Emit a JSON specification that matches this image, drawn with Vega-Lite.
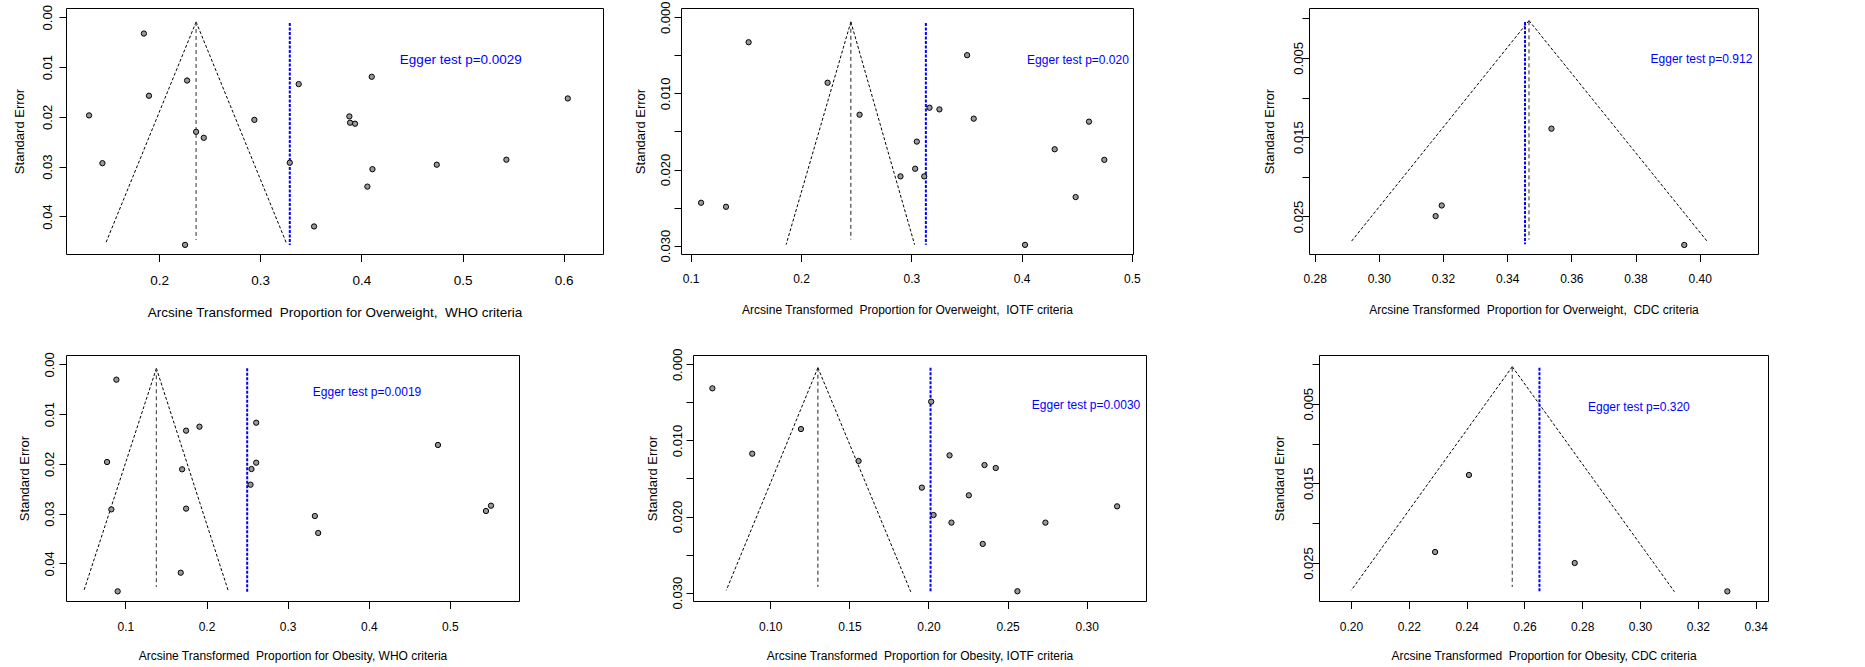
{
  "$schema": "https://vega.github.io/schema/vega-lite/v6.json",
  "background": "white",
  "padding": {"left": 12, "top": 0, "right": 0, "bottom": 0},
  "config": {
    "view": {"stroke": "black", "strokeWidth": 1},
    "axis": {"titleFontWeight": "normal", "labelColor": "#000", "titleColor": "#000", "tickColor": "#000", "tickWidth": 1, "domain": false, "grid": false, "labelFlush": false, "labelOverlap": false, "labelBound": false},
    "axisX": {"labelFont": "Liberation Sans", "titleFont": "Liberation Sans", "labelFontSize": 12, "titleFontSize": 12, "tickSize": 7.5, "labelPadding": 12.3, "titlePadding": 20},
    "axisY": {"labelFont": "Liberation Sans", "titleFont": "Liberation Sans", "labelFontSize": 13, "titleFontSize": 13, "tickSize": 7, "labelAngle": 270, "labelAlign": "center", "labelBaseline": "middle"}
  },
  "spacing": 28,
  "vconcat": [
    {
      "spacing": 30,
      "hconcat": [
        {
          "width": 537, "height": 246,
          "encoding": {
            "x": {"field": "x", "type": "quantitative", "scale": {"domain": [0.108, 0.6388], "nice": false, "zero": false}, "axis": {"values": [0.2, 0.3, 0.4, 0.5, 0.6], "format": ".1f", "labelFontSize": 13.5, "titleFontSize": 13.5, "labelPadding": 12, "titlePadding": 18, "title": "Arcsine Transformed\u00a0 Proportion for Overweight,\u00a0 WHO criteria"}},
            "y": {"field": "y", "type": "quantitative", "scale": {"domain": [-0.00186, 0.04753], "nice": false, "zero": false, "reverse": true}, "axis": {"values": [0, 0.01, 0.02, 0.03, 0.04], "format": ".2f", "labelPadding": 11.6, "titlePadding": 15, "title": "Standard Error"}}
          },
          "layer": [
            {"data": {"values": [{"x": 0.2366, "y": 0.00093, "x2": 0.147, "y2": 0.0455}, {"x": 0.2366, "y": 0.00093, "x2": 0.3262, "y2": 0.0455}]}, "mark": {"type": "rule", "color": "black", "strokeWidth": 1, "strokeDash": [3, 2]}, "encoding": {"x2": {"field": "x2"}, "y2": {"field": "y2"}}},
            {"data": {"values": [{"x": 0.2366, "y": 0.00093, "y2": 0.0447}]}, "mark": {"type": "rule", "color": "#555", "strokeWidth": 1.2, "strokeDash": [4, 3]}, "encoding": {"y2": {"field": "y2"}}},
            {"data": {"values": [{"x": 0.3292, "y": 0.00114, "y2": 0.0457}]}, "mark": {"type": "rule", "color": "#0000ff", "strokeWidth": 2, "strokeDash": [3, 1.5]}, "encoding": {"y2": {"field": "y2"}}},
            {"data": {"values": [
              {"x": 0.185, "y": 0.00327}, {"x": 0.2277, "y": 0.0127}, {"x": 0.190, "y": 0.01576}, {"x": 0.1308, "y": 0.0197}, {"x": 0.2366, "y": 0.0230}, {"x": 0.2442, "y": 0.0242}, {"x": 0.2942, "y": 0.0206}, {"x": 0.144, "y": 0.0293}, {"x": 0.2257, "y": 0.0457}, {"x": 0.3292, "y": 0.0292}, {"x": 0.338, "y": 0.01342}, {"x": 0.3532, "y": 0.042}, {"x": 0.4102, "y": 0.01195}, {"x": 0.3881, "y": 0.0199}, {"x": 0.3888, "y": 0.02117}, {"x": 0.3937, "y": 0.02137}, {"x": 0.4109, "y": 0.0305}, {"x": 0.4059, "y": 0.034}, {"x": 0.4745, "y": 0.0296}, {"x": 0.5433, "y": 0.0286}, {"x": 0.604, "y": 0.0163}
            ]}, "mark": {"type": "circle", "color": "#999999", "opacity": 1, "stroke": "#000", "strokeWidth": 1, "size": 28}},
            {"data": {"values": [{"x": 0.438, "y": 0.00848, "label": "Egger test p=0.0029"}]}, "mark": {"type": "text", "align": "left", "baseline": "middle", "font": "Liberation Sans", "fontSize": 13.5, "color": "#0000ff"}, "encoding": {"text": {"field": "label"}}}
          ]
        },
        {
          "spacing": 121,
          "hconcat": [
            {
              "width": 452, "height": 246,
              "encoding": {
                "x": {"field": "x", "type": "quantitative", "scale": {"domain": [0.0912, 0.501], "nice": false, "zero": false}, "axis": {"values": [0.1, 0.2, 0.3, 0.4, 0.5], "format": ".1f", "title": "Arcsine Transformed\u00a0 Proportion for Overweight,\u00a0 IOTF criteria"}},
                "y": {"field": "y", "type": "quantitative", "scale": {"domain": [-0.00122, 0.0311], "nice": false, "zero": false, "reverse": true}, "axis": {"values": [0, 0.005, 0.01, 0.015, 0.02, 0.025, 0.03], "labelExpr": "round(datum.value*1000) % 10 == 0 ? format(datum.value, '.3f') : ''", "labelPadding": 8.8, "titlePadding": 11.5, "title": "Standard Error"}}
              },
              "layer": [
                {"data": {"values": [{"x": 0.2452, "y": 0.0006, "x2": 0.1865, "y2": 0.02987}, {"x": 0.2452, "y": 0.0006, "x2": 0.303, "y2": 0.02987}]}, "mark": {"type": "rule", "color": "black", "strokeWidth": 1, "strokeDash": [3, 2]}, "encoding": {"x2": {"field": "x2"}, "y2": {"field": "y2"}}},
                {"data": {"values": [{"x": 0.2452, "y": 0.0006, "y2": 0.0292}]}, "mark": {"type": "rule", "color": "#222", "strokeWidth": 1, "strokeDash": [4, 3]}, "encoding": {"y2": {"field": "y2"}}},
                {"data": {"values": [{"x": 0.3132, "y": 0.00074, "y2": 0.0299}]}, "mark": {"type": "rule", "color": "#0000ff", "strokeWidth": 2, "strokeDash": [3, 1.5]}, "encoding": {"y2": {"field": "y2"}}},
                {"data": {"values": [
                  {"x": 0.1525, "y": 0.00328}, {"x": 0.2241, "y": 0.0086}, {"x": 0.2531, "y": 0.0128}, {"x": 0.3506, "y": 0.00498}, {"x": 0.3165, "y": 0.01188}, {"x": 0.3255, "y": 0.0121}, {"x": 0.3566, "y": 0.01332}, {"x": 0.305, "y": 0.01633}, {"x": 0.3035, "y": 0.0199}, {"x": 0.2902, "y": 0.0209}, {"x": 0.3117, "y": 0.0209}, {"x": 0.1094, "y": 0.02437}, {"x": 0.132, "y": 0.0249}, {"x": 0.4031, "y": 0.0299}, {"x": 0.43, "y": 0.01734}, {"x": 0.4611, "y": 0.01371}, {"x": 0.475, "y": 0.01873}, {"x": 0.449, "y": 0.02362}
                ]}, "mark": {"type": "circle", "color": "#999999", "opacity": 1, "stroke": "#000", "strokeWidth": 1, "size": 28}},
                {"data": {"values": [{"x": 0.405, "y": 0.00555, "label": "Egger test p=0.020"}]}, "mark": {"type": "text", "align": "left", "baseline": "middle", "font": "Liberation Sans", "fontSize": 12, "color": "#0000ff"}, "encoding": {"text": {"field": "label"}}}
              ]
            },
            {
              "width": 449, "height": 246,
              "encoding": {
                "x": {"field": "x", "type": "quantitative", "scale": {"domain": [0.27823, 0.41818], "nice": false, "zero": false}, "axis": {"values": [0.28, 0.30, 0.32, 0.34, 0.36, 0.38, 0.40], "format": ".2f", "title": "Arcsine Transformed\u00a0 Proportion for Overweight,\u00a0 CDC criteria"}},
                "y": {"field": "y", "type": "quantitative", "scale": {"domain": [-0.00129, 0.02974], "nice": false, "zero": false, "reverse": true}, "axis": {"values": [0, 0.005, 0.01, 0.015, 0.02, 0.025], "labelExpr": "round(datum.value*1000) % 10 == 5 ? format(datum.value, '.3f') : ''", "labelPadding": 3.9, "titlePadding": 16, "title": "Standard Error"}}
              },
              "layer": [
                {"data": {"values": [{"x": 0.3468, "y": 0.0003, "x2": 0.2912, "y2": 0.02827}, {"x": 0.3468, "y": 0.0003, "x2": 0.4026, "y2": 0.02827}]}, "mark": {"type": "rule", "color": "black", "strokeWidth": 1, "strokeDash": [3, 2]}, "encoding": {"x2": {"field": "x2"}, "y2": {"field": "y2"}}},
                {"data": {"values": [{"x": 0.3468, "y": 0.00039, "y2": 0.02793}]}, "mark": {"type": "rule", "color": "#222", "strokeWidth": 1, "strokeDash": [4, 3]}, "encoding": {"y2": {"field": "y2"}}},
                {"data": {"values": [{"x": 0.34556, "y": 0.00047, "y2": 0.0285}]}, "mark": {"type": "rule", "color": "#0000ff", "strokeWidth": 2, "strokeDash": [3, 1.5]}, "encoding": {"y2": {"field": "y2"}}},
                {"data": {"values": [
                  {"x": 0.3538, "y": 0.01393}, {"x": 0.3196, "y": 0.02362}, {"x": 0.3177, "y": 0.02496}, {"x": 0.3952, "y": 0.0286}
                ]}, "mark": {"type": "circle", "color": "#999999", "opacity": 1, "stroke": "#000", "strokeWidth": 1, "size": 28}},
                {"data": {"values": [{"x": 0.3847, "y": 0.0052, "label": "Egger test p=0.912"}]}, "mark": {"type": "text", "align": "left", "baseline": "middle", "font": "Liberation Sans", "fontSize": 12, "color": "#0000ff"}, "encoding": {"text": {"field": "label"}}}
              ]
            }
          ]
        }
      ]
    },
    {
      "spacing": 126,
      "hconcat": [
        {
          "width": 453, "height": 246,
          "encoding": {
            "x": {"field": "x", "type": "quantitative", "scale": {"domain": [0.0268, 0.5851], "nice": false, "zero": false}, "axis": {"values": [0.1, 0.2, 0.3, 0.4, 0.5], "format": ".1f", "labelPadding": 13.3, "titlePadding": 18, "title": "Arcsine Transformed\u00a0 Proportion for Obesity, WHO criteria"}},
            "y": {"field": "y", "type": "quantitative", "scale": {"domain": [-0.00188, 0.04757], "nice": false, "zero": false, "reverse": true}, "axis": {"values": [0, 0.01, 0.02, 0.03, 0.04], "format": ".2f", "labelPadding": 9.5, "titlePadding": 12.5, "title": "Standard Error"}}
          },
          "layer": [
            {"data": {"values": [{"x": 0.1382, "y": 0.0008, "x2": 0.049, "y2": 0.04543}, {"x": 0.1382, "y": 0.0008, "x2": 0.2266, "y2": 0.04543}]}, "mark": {"type": "rule", "color": "black", "strokeWidth": 1, "strokeDash": [3, 2]}, "encoding": {"x2": {"field": "x2"}, "y2": {"field": "y2"}}},
            {"data": {"values": [{"x": 0.1382, "y": 0.0008, "y2": 0.04476}]}, "mark": {"type": "rule", "color": "#555", "strokeWidth": 1.2, "strokeDash": [4, 3]}, "encoding": {"y2": {"field": "y2"}}},
            {"data": {"values": [{"x": 0.2501, "y": 0.0008, "y2": 0.04576}]}, "mark": {"type": "rule", "color": "#0000ff", "strokeWidth": 2, "strokeDash": [3, 1.5]}, "encoding": {"y2": {"field": "y2"}}},
            {"data": {"values": [
              {"x": 0.0889, "y": 0.00308}, {"x": 0.0774, "y": 0.01963}, {"x": 0.0827, "y": 0.02915}, {"x": 0.0905, "y": 0.04563}, {"x": 0.1748, "y": 0.01333}, {"x": 0.1913, "y": 0.01253}, {"x": 0.1699, "y": 0.0211}, {"x": 0.1748, "y": 0.029}, {"x": 0.1682, "y": 0.04188}, {"x": 0.2612, "y": 0.01173}, {"x": 0.2612, "y": 0.01977}, {"x": 0.2554, "y": 0.02104}, {"x": 0.2542, "y": 0.02419}, {"x": 0.3335, "y": 0.03049}, {"x": 0.3376, "y": 0.0339}, {"x": 0.4852, "y": 0.01621}, {"x": 0.5444, "y": 0.02948}, {"x": 0.5506, "y": 0.02841}
            ]}, "mark": {"type": "circle", "color": "#999999", "opacity": 1, "stroke": "#000", "strokeWidth": 1, "size": 28}},
            {"data": {"values": [{"x": 0.331, "y": 0.0055, "label": "Egger test p=0.0019"}]}, "mark": {"type": "text", "align": "left", "baseline": "middle", "font": "Liberation Sans", "fontSize": 12, "color": "#0000ff"}, "encoding": {"text": {"field": "label"}}}
          ]
        },
        {
          "width": 453, "height": 246,
          "encoding": {
            "x": {"field": "x", "type": "quantitative", "scale": {"domain": [0.05116, 0.33747], "nice": false, "zero": false}, "axis": {"values": [0.10, 0.15, 0.20, 0.25, 0.30], "format": ".2f", "labelPadding": 13.3, "titlePadding": 18, "title": "Arcsine Transformed\u00a0 Proportion for Obesity, IOTF criteria"}},
            "y": {"field": "y", "type": "quantitative", "scale": {"domain": [-0.00123, 0.0311], "nice": false, "zero": false, "reverse": true}, "axis": {"values": [0, 0.005, 0.01, 0.015, 0.02, 0.025, 0.03], "labelExpr": "round(datum.value*1000) % 10 == 0 ? format(datum.value, '.3f') : ''", "labelPadding": 8.2, "titlePadding": 12.2, "title": "Standard Error"}}
          },
          "layer": [
            {"data": {"values": [{"x": 0.1301, "y": 0.00044, "x2": 0.0722, "y2": 0.0297}, {"x": 0.1301, "y": 0.00044, "x2": 0.1888, "y2": 0.0299}]}, "mark": {"type": "rule", "color": "black", "strokeWidth": 1, "strokeDash": [3, 2]}, "encoding": {"x2": {"field": "x2"}, "y2": {"field": "y2"}}},
            {"data": {"values": [{"x": 0.1301, "y": 0.00044, "y2": 0.02926}]}, "mark": {"type": "rule", "color": "#222", "strokeWidth": 1, "strokeDash": [4, 3]}, "encoding": {"y2": {"field": "y2"}}},
            {"data": {"values": [{"x": 0.2013, "y": 0.00044, "y2": 0.0299}]}, "mark": {"type": "rule", "color": "#0000ff", "strokeWidth": 2, "strokeDash": [3, 1.5]}, "encoding": {"y2": {"field": "y2"}}},
            {"data": {"values": [
              {"x": 0.0634, "y": 0.00315}, {"x": 0.0886, "y": 0.01174}, {"x": 0.1194, "y": 0.0085}, {"x": 0.1558, "y": 0.0127}, {"x": 0.2017, "y": 0.0049}, {"x": 0.1958, "y": 0.0162}, {"x": 0.2133, "y": 0.01196}, {"x": 0.2354, "y": 0.01323}, {"x": 0.2425, "y": 0.01362}, {"x": 0.2255, "y": 0.01721}, {"x": 0.2032, "y": 0.0198}, {"x": 0.2145, "y": 0.0208}, {"x": 0.2739, "y": 0.0208}, {"x": 0.2343, "y": 0.0236}, {"x": 0.2562, "y": 0.02982}, {"x": 0.3192, "y": 0.01866}
            ]}, "mark": {"type": "circle", "color": "#999999", "opacity": 1, "stroke": "#000", "strokeWidth": 1, "size": 28}},
            {"data": {"values": [{"x": 0.2653, "y": 0.00534, "label": "Egger test p=0.0030"}]}, "mark": {"type": "text", "align": "left", "baseline": "middle", "font": "Liberation Sans", "fontSize": 12, "color": "#0000ff"}, "encoding": {"text": {"field": "label"}}}
          ]
        },
        {
          "width": 449, "height": 246,
          "encoding": {
            "x": {"field": "x", "type": "quantitative", "scale": {"domain": [0.18893, 0.34427], "nice": false, "zero": false}, "axis": {"values": [0.20, 0.22, 0.24, 0.26, 0.28, 0.30, 0.32, 0.34], "format": ".2f", "labelPadding": 13.3, "titlePadding": 18, "title": "Arcsine Transformed\u00a0 Proportion for Obesity, CDC criteria"}},
            "y": {"field": "y", "type": "quantitative", "scale": {"domain": [-0.00111, 0.02977], "nice": false, "zero": false, "reverse": true}, "axis": {"values": [0, 0.005, 0.01, 0.015, 0.02, 0.025], "labelExpr": "round(datum.value*1000) % 10 == 5 ? format(datum.value, '.3f') : ''", "labelPadding": 3.9, "titlePadding": 15.5, "title": "Standard Error"}}
          },
          "layer": [
            {"data": {"values": [{"x": 0.2558, "y": 0.00036, "x2": 0.2001, "y2": 0.02843}, {"x": 0.2558, "y": 0.00036, "x2": 0.3119, "y2": 0.0286}]}, "mark": {"type": "rule", "color": "black", "strokeWidth": 1, "strokeDash": [3, 2]}, "encoding": {"x2": {"field": "x2"}, "y2": {"field": "y2"}}},
            {"data": {"values": [{"x": 0.2558, "y": 0.00048, "y2": 0.028}]}, "mark": {"type": "rule", "color": "#555", "strokeWidth": 1.2, "strokeDash": [4, 3]}, "encoding": {"y2": {"field": "y2"}}},
            {"data": {"values": [{"x": 0.2652, "y": 0.00048, "y2": 0.02864}]}, "mark": {"type": "rule", "color": "#0000ff", "strokeWidth": 2, "strokeDash": [3, 1.5]}, "encoding": {"y2": {"field": "y2"}}},
            {"data": {"values": [
              {"x": 0.2408, "y": 0.01395}, {"x": 0.2291, "y": 0.02362}, {"x": 0.2774, "y": 0.025}, {"x": 0.3302, "y": 0.02856}
            ]}, "mark": {"type": "circle", "color": "#999999", "opacity": 1, "stroke": "#000", "strokeWidth": 1, "size": 28}},
            {"data": {"values": [{"x": 0.282, "y": 0.00538, "label": "Egger test p=0.320"}]}, "mark": {"type": "text", "align": "left", "baseline": "middle", "font": "Liberation Sans", "fontSize": 12, "color": "#0000ff"}, "encoding": {"text": {"field": "label"}}}
          ]
        }
      ]
    }
  ]
}
